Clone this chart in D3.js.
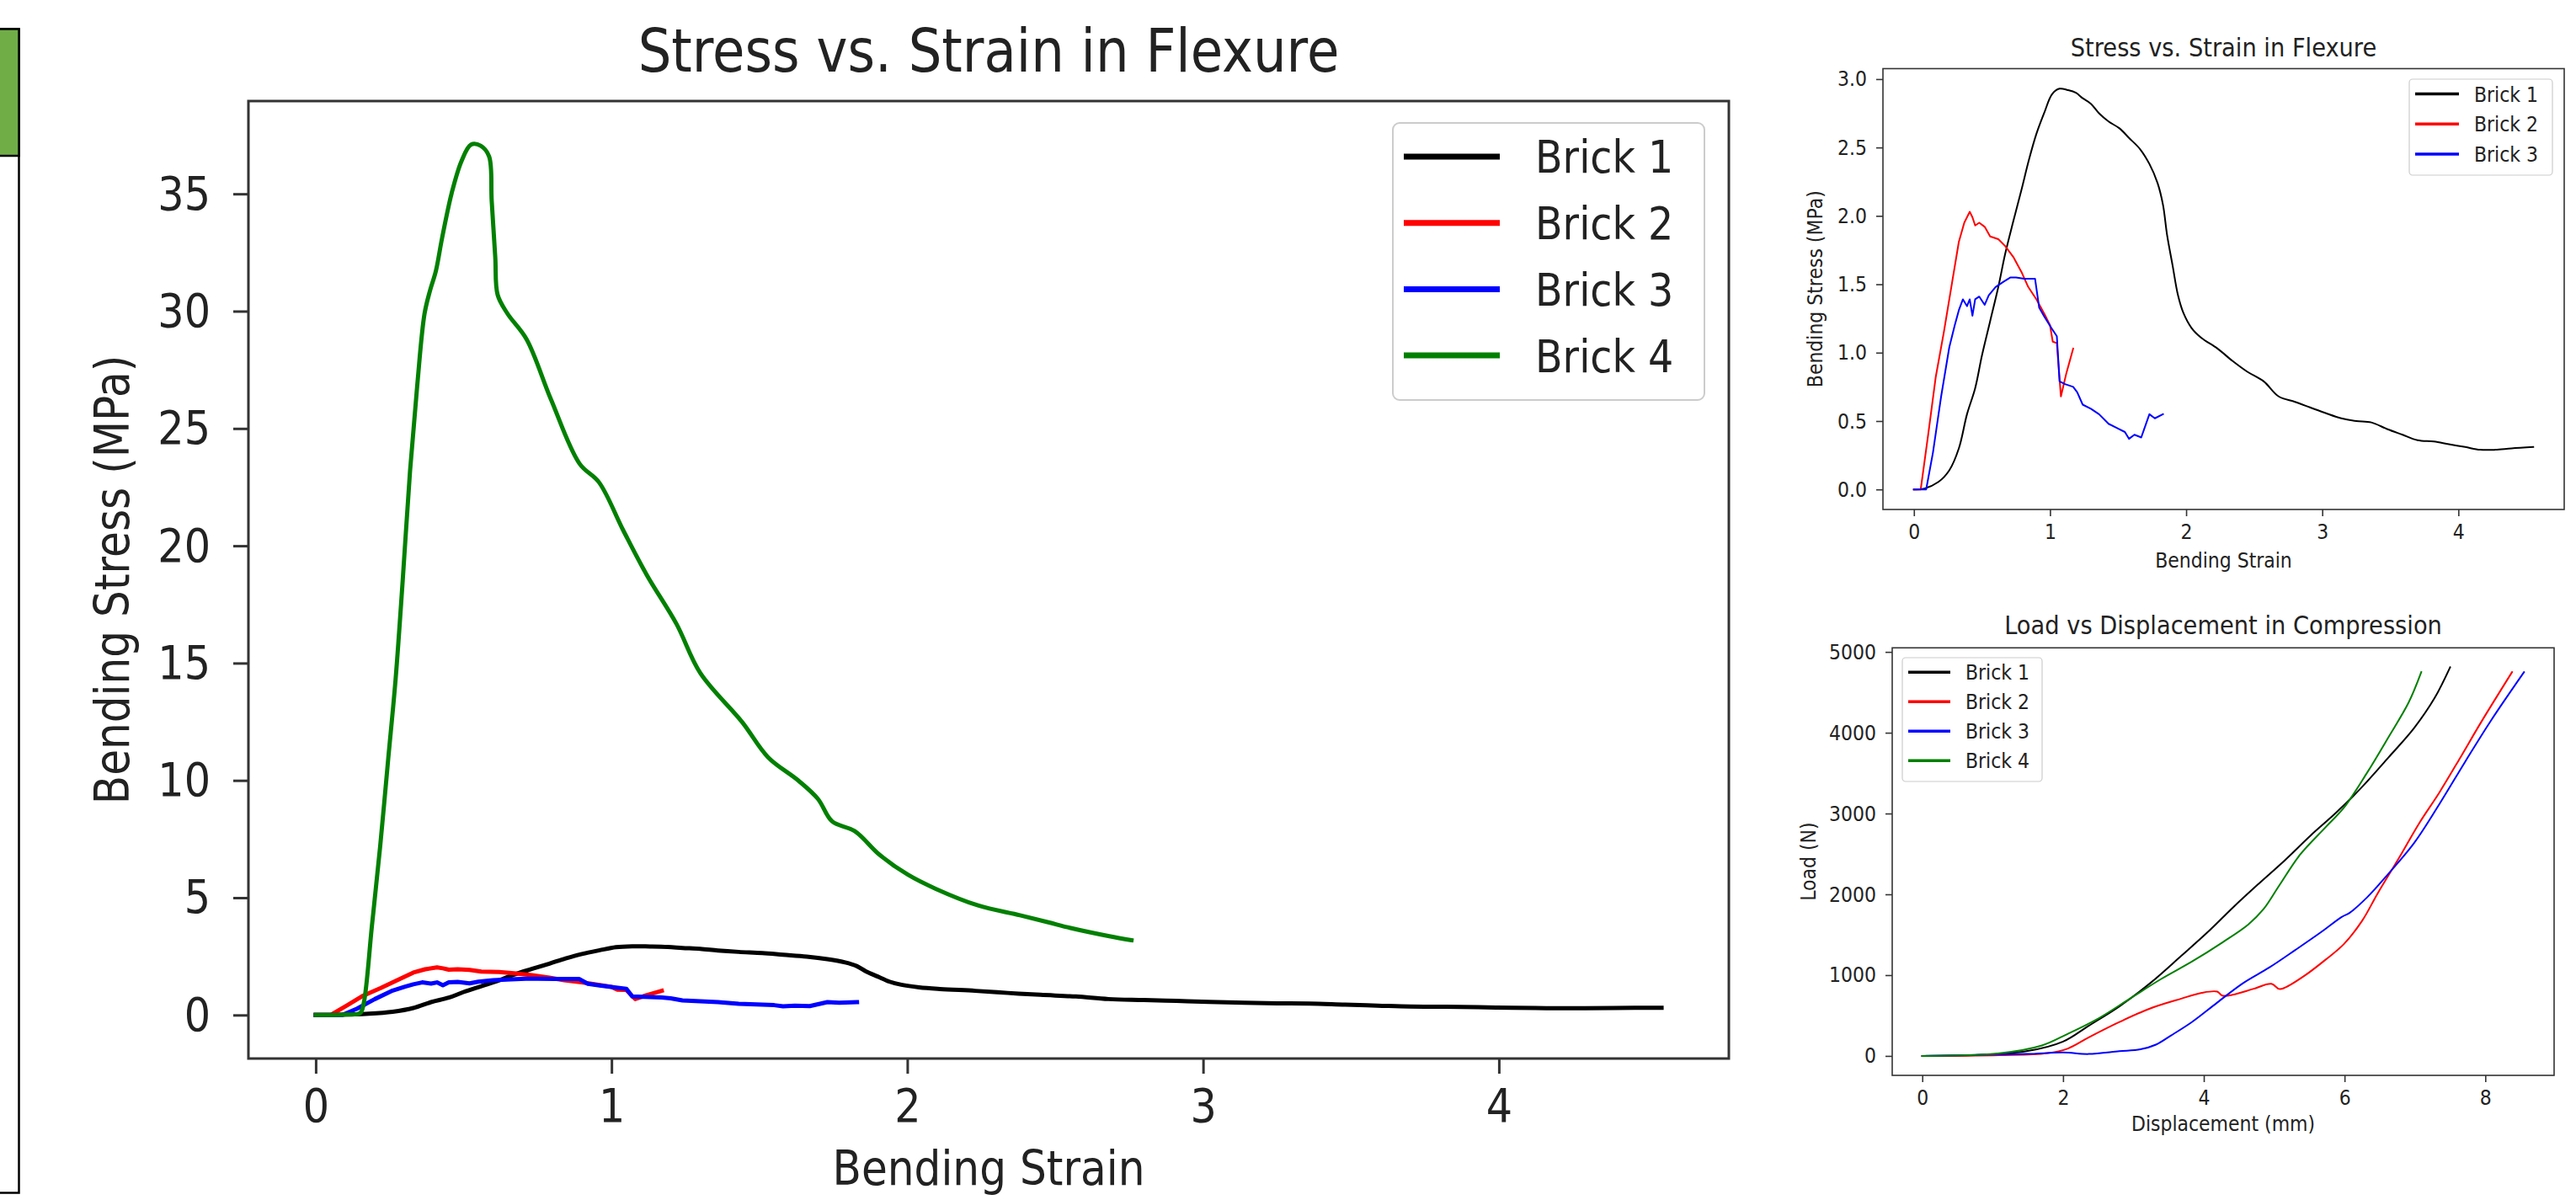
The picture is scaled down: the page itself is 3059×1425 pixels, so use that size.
<!DOCTYPE html>
<html>
<head>
<meta charset="utf-8">
<script src="https://cdn.jsdelivr.net/npm/d3@7/dist/d3.min.js"></script>
<style>
  body { margin: 0; background: #fff; }
  svg text { font-family: "DejaVu Sans", sans-serif; }
</style>
</head>
<body>
<svg class="chart"></svg>
<script>
// ---- flexure test: bending strain / bending stress (MPa) ----
var strain1 = [0, 0.07, 0.18, 0.26, 0.33, 0.39, 0.45, 0.50, 0.56, 0.62, 0.67, 0.73, 0.79, 0.845, 0.90, 0.96, 1.015, 1.07, 1.13, 1.19,
	1.24, 1.30, 1.36, 1.43, 1.51, 1.58, 1.66, 1.73, 1.79, 1.83, 1.86, 1.90, 1.94, 1.98, 2.04, 2.11, 2.23, 2.34, 2.45, 2.57,
	2.68, 2.80, 2.91, 3.02, 3.14, 3.25, 3.36, 3.48, 3.59, 3.70, 3.82, 3.93, 4.05, 4.16, 4.27, 4.39, 4.55];
var stress1 = [0, 0.005, 0.055, 0.14, 0.30, 0.55, 0.74, 0.98, 1.23, 1.48, 1.72, 1.96, 2.19, 2.41, 2.60, 2.76, 2.89, 2.93, 2.92, 2.90,
	2.86, 2.82, 2.75, 2.69, 2.64, 2.57, 2.49, 2.38, 2.24, 2.08, 1.86, 1.64, 1.42, 1.29, 1.18, 1.11, 1.03, 0.94, 0.86, 0.79,
	0.68, 0.64, 0.60, 0.56, 0.52, 0.50, 0.49, 0.44, 0.40, 0.36, 0.35, 0.33, 0.31, 0.29, 0.29, 0.30, 0.31];

var strain2 = [0, 0.05, 0.106, 0.16, 0.22, 0.28, 0.33, 0.37, 0.41, 0.43, 0.45, 0.48, 0.52, 0.56, 0.62, 0.67, 0.73, 0.79, 0.84, 0.90,
	0.96, 1.00, 1.02, 1.05, 1.08, 1.12, 1.17];
var stress2 = [0, 0, 0.41, 0.82, 1.15, 1.51, 1.81, 1.95, 2.03, 1.99, 1.93, 1.95, 1.92, 1.85, 1.83, 1.78, 1.70, 1.59, 1.48, 1.39,
	1.28, 1.20, 1.08, 1.07, 0.68, 0.85, 1.03];

var strain3 = [0, 0.09, 0.14, 0.20, 0.26, 0.30, 0.33, 0.36, 0.39, 0.41, 0.43, 0.45, 0.48, 0.52, 0.55, 0.60, 0.66, 0.71, 0.75, 0.81,
	0.845, 0.89, 0.92, 0.96, 1.01, 1.05, 1.07, 1.11, 1.17, 1.20, 1.24, 1.30, 1.36, 1.43, 1.49, 1.55, 1.58, 1.62, 1.67, 1.73,
	1.77, 1.83];
var stress3 = [0, 0, 0.27, 0.68, 1.04, 1.20, 1.31, 1.39, 1.34, 1.39, 1.27, 1.39, 1.41, 1.35, 1.42, 1.48, 1.52, 1.55, 1.55, 1.54,
	1.54, 1.54, 1.33, 1.26, 1.18, 1.12, 0.79, 0.77, 0.75, 0.71, 0.62, 0.59, 0.55, 0.48, 0.45, 0.42, 0.37, 0.40, 0.38, 0.55,
	0.52, 0.55];

var strain4 = [0, 0.10, 0.15, 0.162, 0.19, 0.218, 0.245, 0.27, 0.294, 0.319, 0.343, 0.368, 0.387, 0.406, 0.427, 0.46, 0.493, 0.525, 0.558, 0.586,
	0.595, 0.607, 0.615, 0.648, 0.713, 0.795, 0.892, 0.958, 1.04, 1.12, 1.22, 1.30, 1.442, 1.529, 1.632, 1.698, 1.746, 1.822, 1.907, 2.002,
	2.096, 2.239, 2.381, 2.477, 2.552, 2.683, 2.758];
var stress4 = [0, 0.02, 0.08, 0.48, 3.8, 7.2, 10.9, 14.3, 18.5, 23.2, 26.8, 29.9, 30.9, 31.7, 33.1, 35.05, 36.4, 37.1, 37.05, 36.6,
	34.7, 32.3, 30.7, 29.9, 28.8, 26.25, 23.5, 22.7, 20.65, 18.74, 16.66, 14.58, 12.48, 10.99, 9.99, 9.21, 8.25, 7.84, 6.82, 5.98,
	5.38, 4.67, 4.25, 3.95, 3.71, 3.36, 3.19];

// ---- compression test: displacement (mm) / load (N) ----
var disp1 = [0, 0.75, 1.48, 2.0, 2.36, 2.8, 3.24, 3.68, 4.05, 4.42, 4.78, 5.15, 5.52, 5.88, 6.25, 6.62, 6.99, 7.28, 7.5];
var load1 = [0, 10, 58, 178, 371, 612, 902, 1239, 1528, 1842, 2131, 2420, 2730, 3010, 3330, 3690, 4060, 4430, 4810];

var disp2 = [0, 1.1, 1.77, 2.07, 2.36, 2.8, 3.24, 3.68, 3.97, 4.19, 4.26, 4.41, 4.7, 4.96, 5.07, 5.15, 5.44, 5.73, 5.99, 6.25,
	6.47, 6.77, 7.06, 7.35, 7.65, 7.94, 8.38];
var load2 = [0, 10, 34, 92, 227, 419, 588, 709, 781, 796, 747, 757, 829, 892, 829, 844, 998, 1191, 1384, 1673,
	2011, 2445, 2879, 3264, 3700, 4130, 4750];

var disp3 = [0, 1.48, 2.0, 2.36, 2.8, 3.1, 3.32, 3.53, 3.83, 4.19, 4.56, 4.93, 5.3, 5.66, 5.96, 6.07, 6.32, 6.62, 6.99, 7.35,
	7.72, 8.08, 8.55];
var load3 = [0, 24, 43, 24, 58, 82, 140, 251, 419, 660, 902, 1094, 1311, 1528, 1721, 1770, 1962, 2252, 2637, 3120,
	3650, 4150, 4750];

var disp4 = [0, 1.1, 1.7, 2.07, 2.51, 2.95, 3.39, 3.83, 4.27, 4.63, 4.85, 5.07, 5.37, 5.73, 5.99, 6.32, 6.62, 6.91, 7.09];
var load4 = [0, 34, 130, 275, 468, 709, 950, 1167, 1408, 1625, 1818, 2107, 2493, 2830, 3071, 3505, 3939, 4373, 4750];

var brickNames = ["Brick 1", "Brick 2", "Brick 3", "Brick 4"];
var brickColors = ["#000000", "#ff0000", "#0000ff", "#008000"];

var flexXTicks = [0, 1, 2, 3, 4];
var flexMainYTicks = [0, 5, 10, 15, 20, 25, 30, 35];
var flexSmallYTicks = [0, 0.5, 1.0, 1.5, 2.0, 2.5, 3.0];
var compXTicks = [0, 2, 4, 6, 8];
var compYTicks = [0, 1000, 2000, 3000, 4000, 5000];

var W = 3059, H = 1425;
var SQ = 0.88;         // glyphs in the picture are narrower than plain DejaVu
var TXT = "#222", AX = "#333";

var svg = d3.select('.chart').attr('width', W).attr('height', H);
svg.append('rect').attr('width', W).attr('height', H).attr('fill', '#fff');

// side box cut off at the left edge
svg.append('rect')
	.attr('x', -4).attr('y', 34.5).attr('width', 26.5).attr('height', 1382)
	.attr('fill', '#fff').attr('stroke', '#000').attr('stroke-width', 2.5);
svg.append('rect')
	.attr('x', -4).attr('y', 34.5).attr('width', 26.5).attr('height', 150.5)
	.attr('fill', '#70ad47').attr('stroke', '#000').attr('stroke-width', 2.5);

function addText(g, str, x, y, size, anchor, rot){
	return g.append('text')
		.attr('transform', 'translate(' + x + ',' + y + ')' + (rot ? ' rotate(-90)' : '') + ' scale(' + SQ + ',1)')
		.attr('text-anchor', anchor)
		.attr('fill', TXT)
		.style('font-size', size + 'px')
		.text(str);
}

function fixTicks(g, size, tickW){
	g.attr('font-size', null).attr('font-family', null);
	g.select('.domain').remove();
	g.selectAll('.tick line').attr('stroke', AX).attr('stroke-width', tickW);
	g.selectAll('.tick text').each(function(){
		var t = d3.select(this);
		var tx = +t.attr('x') || 0, ty = +t.attr('y') || 0;
		t.attr('x', null).attr('y', null)
		 .attr('transform', 'translate(' + tx + ',' + ty + ') scale(' + SQ + ',1)')
		 .attr('fill', TXT)
		 .style('font-size', size + 'px');
	});
}

function drawPanel(p){
	var allX = d3.merge(p.series.map(function(s){ return s.x; }));
	var allY = d3.merge(p.series.map(function(s){ return s.y; }));
	var xe = d3.extent(allX), ye = d3.extent(allY);
	var xm = (xe[1] - xe[0]) * 0.05, ym = (ye[1] - ye[0]) * 0.05;

	var x = d3.scaleLinear().domain([xe[0] - xm, xe[1] + xm]).range([p.left, p.right]);
	var y = d3.scaleLinear().domain([ye[0] - ym, ye[1] + ym]).range([p.bottom, p.top]);

	var g = svg.append('g');

	p.series.forEach(function(s){
		var line = d3.line()
			.x(function(d){ return x(d[0]); })
			.y(function(d){ return y(d[1]); })
			.curve(s.smooth ? d3.curveCatmullRom.alpha(0.5) : d3.curveLinear);
		g.append('path')
			.datum(d3.zip(s.x, s.y))
			.attr('fill', 'none')
			.attr('stroke', brickColors[s.c])
			.attr('stroke-width', p.lineW)
			.attr('stroke-linejoin', 'round')
			.attr('stroke-linecap', 'square')
			.attr('d', line);
	});

	var xAxis = d3.axisBottom(x).tickValues(p.xTicks).tickFormat(d3.format('d'))
		.tickSize(p.tickLen).tickPadding(p.xPad);
	var yAxis = d3.axisLeft(y).tickValues(p.yTicks).tickFormat(p.yFmt)
		.tickSize(p.tickLen).tickPadding(p.yPad);

	var gx = g.append('g').attr('transform', 'translate(0,' + p.bottom + ')').call(xAxis);
	fixTicks(gx, p.tickFont, p.frameW);
	var gy = g.append('g').attr('transform', 'translate(' + p.left + ',0)').call(yAxis);
	fixTicks(gy, p.tickFont, p.frameW);

	g.append('rect')
		.attr('x', p.left).attr('y', p.top)
		.attr('width', p.right - p.left).attr('height', p.bottom - p.top)
		.attr('fill', 'none').attr('stroke', AX).attr('stroke-width', p.frameW);

	var cx = (p.left + p.right) / 2, cy = (p.top + p.bottom) / 2;
	addText(g, p.title, cx, p.top - p.titleGap, p.titleFont, 'middle', false);
	addText(g, p.xLabel, cx, p.bottom + p.xLabelGap, p.labelFont, 'middle', false);
	addText(g, p.yLabel, p.left - p.yLabelGap, cy, p.labelFont, 'middle', true);

	// legend
	var L = p.legend;
	var lg = g.append('g');
	lg.append('rect')
		.attr('x', L.x0).attr('y', L.y0)
		.attr('width', L.x1 - L.x0).attr('height', L.y1 - L.y0)
		.attr('rx', L.r).attr('ry', L.r)
		.attr('fill', '#fff').attr('fill-opacity', 0.8)
		.attr('stroke', '#cccccc').attr('stroke-width', L.bw);
	p.series.forEach(function(s, i){
		var ly = L.first + i * L.step;
		lg.append('line')
			.attr('x1', L.h0).attr('x2', L.h1)
			.attr('y1', ly).attr('y2', ly)
			.attr('stroke', brickColors[s.c])
			.attr('stroke-width', L.w);
		addText(lg, brickNames[s.c], L.tx, ly + L.font * 0.36, L.font, 'start', false);
	});
}

// big flexure chart
drawPanel({
	left: 295, right: 2053, top: 120, bottom: 1257,
	series: [
		{x: strain1, y: stress1, c: 0, smooth: true},
		{x: strain2, y: stress2, c: 1},
		{x: strain3, y: stress3, c: 2},
		{x: strain4, y: stress4, c: 3, smooth: true}
	],
	xTicks: flexXTicks, yTicks: flexMainYTicks, yFmt: d3.format('d'),
	tickLen: 18, xPad: 17, yPad: 27, tickFont: 56, frameW: 3, lineW: 5,
	title: 'Stress vs. Strain in Flexure', titleFont: 71, titleGap: 35,
	xLabel: 'Bending Strain', xLabelGap: 150,
	yLabel: 'Bending Stress (MPa)', yLabelGap: 142, labelFont: 57,
	legend: {x0: 1654, y0: 146, x1: 2024, y1: 475, r: 8, bw: 2,
		first: 186, step: 78.7, h0: 1667, h1: 1781, w: 7, tx: 1823, font: 54}
});

// small flexure chart (bricks 1-3)
drawPanel({
	left: 2236, right: 3045, top: 81.5, bottom: 605,
	series: [
		{x: strain1, y: stress1, c: 0, smooth: true},
		{x: strain2, y: stress2, c: 1},
		{x: strain3, y: stress3, c: 2}
	],
	xTicks: flexXTicks, yTicks: flexSmallYTicks, yFmt: d3.format('.1f'),
	tickLen: 8, xPad: 9, yPad: 11, tickFont: 25, frameW: 1.6, lineW: 2,
	title: 'Stress vs. Strain in Flexure', titleFont: 31, titleGap: 14.5,
	xLabel: 'Bending Strain', xLabelGap: 69,
	yLabel: 'Bending Stress (MPa)', yLabelGap: 72, labelFont: 25,
	legend: {x0: 2861, y0: 94, x1: 3031, y1: 208, r: 4, bw: 1.2,
		first: 111.6, step: 35.7, h0: 2868, h1: 2920, w: 3.5, tx: 2938, font: 25}
});

// compression chart
drawPanel({
	left: 2247, right: 3033, top: 769.3, bottom: 1277,
	series: [
		{x: disp1, y: load1, c: 0, smooth: true},
		{x: disp2, y: load2, c: 1, smooth: true},
		{x: disp3, y: load3, c: 2, smooth: true},
		{x: disp4, y: load4, c: 3, smooth: true}
	],
	xTicks: compXTicks, yTicks: compYTicks, yFmt: d3.format('d'),
	tickLen: 8, xPad: 9, yPad: 11, tickFont: 25, frameW: 1.6, lineW: 2,
	title: 'Load vs Displacement in Compression', titleFont: 31, titleGap: 16,
	xLabel: 'Displacement (mm)', xLabelGap: 66,
	yLabel: 'Load (N)', yLabelGap: 91, labelFont: 25,
	legend: {x0: 2259, y0: 781, x1: 2425, y1: 928, r: 4, bw: 1.2,
		first: 798.3, step: 35, h0: 2266, h1: 2316, w: 3.5, tx: 2334, font: 25}
});
</script>
</body>
</html>
